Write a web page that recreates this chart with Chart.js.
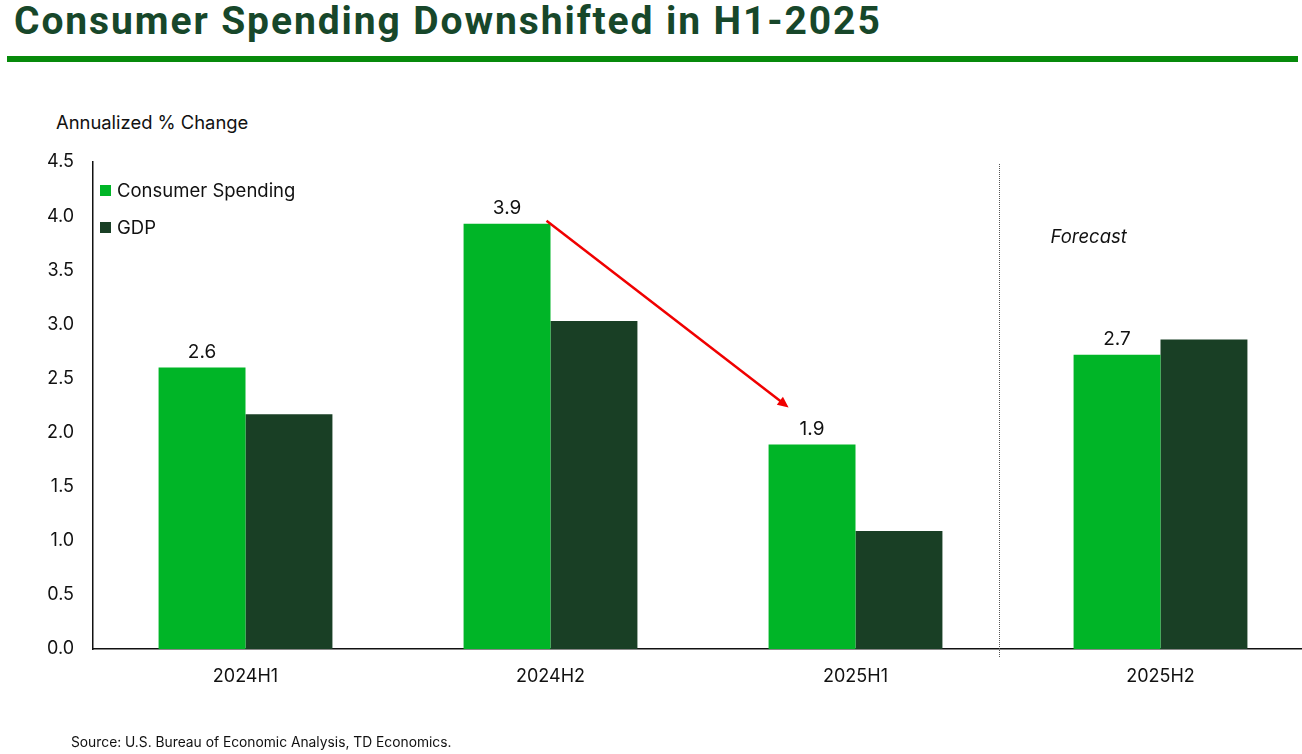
<!DOCTYPE html>
<html>
<head>
<meta charset="utf-8">
<script src="https://cdn.jsdelivr.net/npm/chart.js@4.4.1/dist/chart.umd.min.js"></script>
<style>
  body { margin: 0; background: #fff; }
  #wrap { position: relative; width: 1302px; height: 754px; overflow: hidden; }
  #title { position: absolute; left: 14px; top: -2px; font-family: Roboto, sans-serif; font-weight: bold; font-size: 39px; color: #17472a; letter-spacing: 1.9px; }
  #rule { position: absolute; left: 7px; top: 56px; width: 1291px; height: 6px; background: #078a0b; }
  #ytitle { position: absolute; left: 56px; top: 111px; font-family: Inter, sans-serif; font-size: 18.4px; color: #111; }
  #source { position: absolute; left: 71px; top: 734px; font-family: Inter, sans-serif; font-size: 13.8px; color: #111; }
  canvas { position: absolute; left: 0; top: 0; }
</style>
</head>
<body>
<div id="wrap">
  <div id="title">Consumer Spending Downshifted in H1-2025</div>
  <div id="rule"></div>
  <div id="ytitle">Annualized % Change</div>
  <canvas id="chart" width="1320" height="754"></canvas>
  <div id="source">Source: U.S. Bureau of Economic Analysis, TD Economics.</div>
</div>
<script>
const categories = ["2024H1", "2024H2", "2025H1", "2025H2"];
const consumerSpending = [2.6, 3.93, 1.89, 2.72];
const gdp = [2.17, 3.03, 1.09, 2.86];
const spendingLabels = ["2.6", "3.9", "1.9", "2.7"];
const yTicks = [0, 0.5, 1, 1.5, 2, 2.5, 3, 3.5, 4, 4.5];

const lightGreen = "#00b527";
const darkGreen = "#193f25";

const extras = {
  id: "extras",
  afterDraw(chart) {
    const ctx = chart.ctx;
    const x = chart.scales.x;
    const area = chart.chartArea;
    const green = chart.getDatasetMeta(0).data;

    // value labels on consumer spending bars
    ctx.save();
    ctx.font = "19px Inter, sans-serif";
    ctx.fillStyle = "#111";
    ctx.textAlign = "center";
    ctx.textBaseline = "bottom";
    green.forEach((bar, i) => {
      ctx.fillText(spendingLabels[i], bar.x, bar.y - 6);
    });

    // forecast divider
    const divX = Math.round((x.getPixelForTick(2) + x.getPixelForTick(3)) / 2) - 8.5;
    ctx.strokeStyle = "#555";
    ctx.lineWidth = 1;
    ctx.setLineDash([1, 1]);
    ctx.beginPath();
    ctx.moveTo(divX, area.top + 2);
    ctx.lineTo(divX, area.bottom + 9);
    ctx.stroke();
    ctx.setLineDash([]);

    ctx.font = "italic 18.5px Inter, sans-serif";
    ctx.textAlign = "left";
    ctx.textBaseline = "middle";
    ctx.fillText("Forecast", divX + 51, 237);

    // legend
    const legend = [["Consumer Spending", lightGreen], ["GDP", darkGreen]];
    ctx.font = "18.5px Inter, sans-serif";
    legend.forEach((item, i) => {
      const ly = 191 + i * 37;
      ctx.fillStyle = item[1];
      ctx.fillRect(100, ly - 6, 11, 11);
      ctx.fillStyle = "#111";
      ctx.fillText(item[0], 117, ly);
    });

    // red arrow from 2024H2 to 2025H1
    const a = green[1], b = green[2];
    const x1 = a.x + a.width / 2 - 4, y1 = a.y - 3;
    const x2 = b.x - b.width / 2 + 20, y2 = b.y - 37;
    const ang = Math.atan2(y2 - y1, x2 - x1);
    ctx.strokeStyle = "#f00000";
    ctx.fillStyle = "#f00000";
    ctx.lineWidth = 2.5;
    ctx.beginPath();
    ctx.moveTo(x1, y1);
    ctx.lineTo(x2 - 8 * Math.cos(ang), y2 - 8 * Math.sin(ang));
    ctx.stroke();
    ctx.beginPath();
    ctx.moveTo(x2, y2);
    ctx.lineTo(x2 - 11 * Math.cos(ang) + 5 * Math.sin(ang), y2 - 11 * Math.sin(ang) - 5 * Math.cos(ang));
    ctx.lineTo(x2 - 11 * Math.cos(ang) - 5 * Math.sin(ang), y2 - 11 * Math.sin(ang) + 5 * Math.cos(ang));
    ctx.closePath();
    ctx.fill();
    ctx.restore();
  }
};

new Chart(document.getElementById("chart"), {
  type: "bar",
  data: {
    labels: categories,
    datasets: [
      { label: "Consumer Spending", data: consumerSpending, backgroundColor: lightGreen },
      { label: "GDP", data: gdp, backgroundColor: darkGreen }
    ]
  },
  options: {
    responsive: false,
    animation: false,
    layout: { padding: { top: 162, right: 7, bottom: 55, left: 0 } },
    datasets: { bar: { categoryPercentage: 0.57, barPercentage: 1.0 } },
    plugins: { legend: { display: false }, tooltip: { enabled: false } },
    scales: {
      x: {
        grid: { display: false, drawTicks: false },
        border: { color: "#111", width: 1.5 },
        ticks: { color: "#111", font: { family: "Inter", size: 18 }, padding: 17 },
        afterFit(scale) { scale.height = 50; }
      },
      y: {
        min: 0,
        max: 4.5,
        afterBuildTicks(scale) { scale.ticks = yTicks.map(v => ({ value: v })); },
        grid: { display: false, drawTicks: false },
        border: { color: "#111", width: 1.5 },
        ticks: {
          color: "#111",
          font: { family: "Inter", size: 18 },
          padding: 19,
          callback: v => v.toFixed(1)
        },
        afterFit(scale) { scale.width = 93; }
      }
    }
  },
  plugins: [extras]
});
</script>
</body>
</html>
